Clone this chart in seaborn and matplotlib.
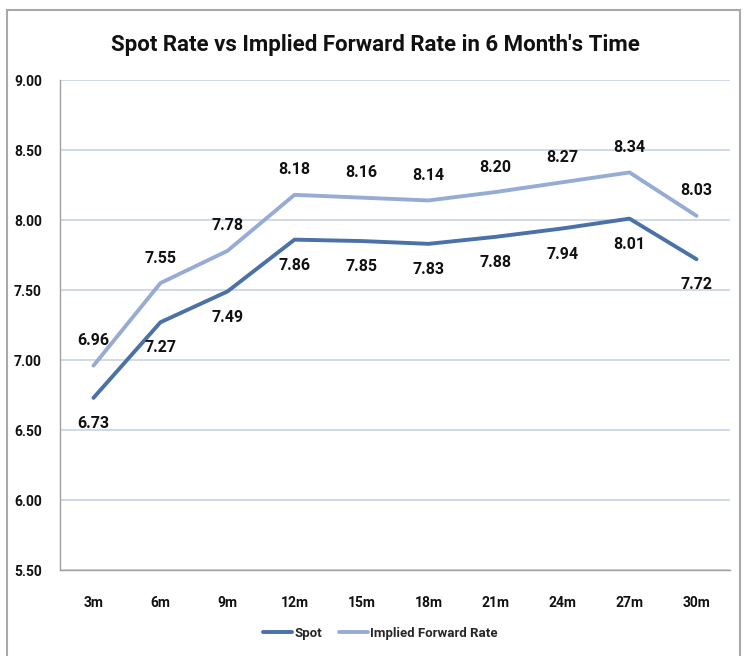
import matplotlib
matplotlib.use("Agg")
import matplotlib.pyplot as plt
import seaborn as sns
import pandas as pd
from matplotlib.patches import Rectangle
from matplotlib.lines import Line2D

categories = ["3m", "6m", "9m", "12m", "15m", "18m", "21m", "24m", "27m", "30m"]
spot = [6.73, 7.27, 7.49, 7.86, 7.85, 7.83, 7.88, 7.94, 8.01, 7.72]
forward = [6.96, 7.55, 7.78, 8.18, 8.16, 8.14, 8.20, 8.27, 8.34, 8.03]
yticks = [5.50, 6.00, 6.50, 7.00, 7.50, 8.00, 8.50, 9.00]

sns.set_style("white")
plt.rcParams["font.family"] = ["Roboto", "DejaVu Sans"]
plt.rcParams["font.weight"] = "bold"

df = pd.DataFrame({
    "x": list(range(len(categories))) * 2,
    "rate": spot + forward,
    "series": ["Spot"] * len(spot) + ["Implied Forward Rate"] * len(forward),
})

fig = plt.figure(figsize=(7.46, 6.56), dpi=100)
ax = fig.add_axes([0.0804, 0.131, 0.8982, 0.747])

palette = {"Spot": "#4a71a8", "Implied Forward Rate": "#97acd4"}
sns.lineplot(data=df, x="x", y="rate", hue="series", palette=palette,
             linewidth=2.8, ax=ax, legend=False)

for i, v in enumerate(forward):
    ax.annotate(f"{v:.2f}", (i, v), xytext=(0, 18), textcoords="offset points",
                ha="center", va="center", fontsize=11.5, fontweight="bold", color="#111111")
for i, v in enumerate(spot):
    ax.annotate(f"{v:.2f}", (i, v), xytext=(0, -18.5), textcoords="offset points",
                ha="center", va="center", fontsize=11.5, fontweight="bold", color="#111111")

ax.set_xlim(-0.5, len(categories) - 0.5)
ax.set_ylim(5.5, 9.0)
ax.set_yticks(yticks)
ax.set_yticklabels([f"{t:.2f}" for t in yticks], fontsize=10, fontweight="bold")
ax.set_xticks(range(len(categories)))
ax.set_xticklabels(categories, fontsize=10, fontweight="bold")
ax.tick_params(axis="x", length=0, pad=19, colors="#111111")
ax.tick_params(axis="y", length=0, pad=13, colors="#111111")
ax.yaxis.grid(True, color="#c8d4e3", linewidth=1.2)
ax.set_axisbelow(True)
ax.set_xlabel("")
ax.set_ylabel("")
for s in ["top", "right"]:
    ax.spines[s].set_visible(False)
for s in ["left", "bottom"]:
    ax.spines[s].set_color("#a0a0a0")
    ax.spines[s].set_linewidth(1.0)

fig.text(0.503, 0.931, "Spot Rate vs Implied Forward Rate in 6 Month's Time",
         ha="center", va="center", fontsize=16, fontweight="bold", color="#111111")

handles = [Line2D([], [], color=palette["Spot"], lw=2.8),
           Line2D([], [], color=palette["Implied Forward Rate"], lw=2.8)]
fig.legend(handles, ["Spot", "Implied Forward Rate"], loc="center",
           bbox_to_anchor=(0.51, 0.035), ncol=2, frameon=False,
           prop={"size": 9.5, "weight": "bold"}, handlelength=2.2,
           handletextpad=0.15, columnspacing=1.3)

fig.patches.append(Rectangle((0.0095, -0.02), 0.982, 1.005, transform=fig.transFigure,
                             fill=False, edgecolor="#a8a8a8", linewidth=1.5))

fig.savefig("out.png", dpi=100)
